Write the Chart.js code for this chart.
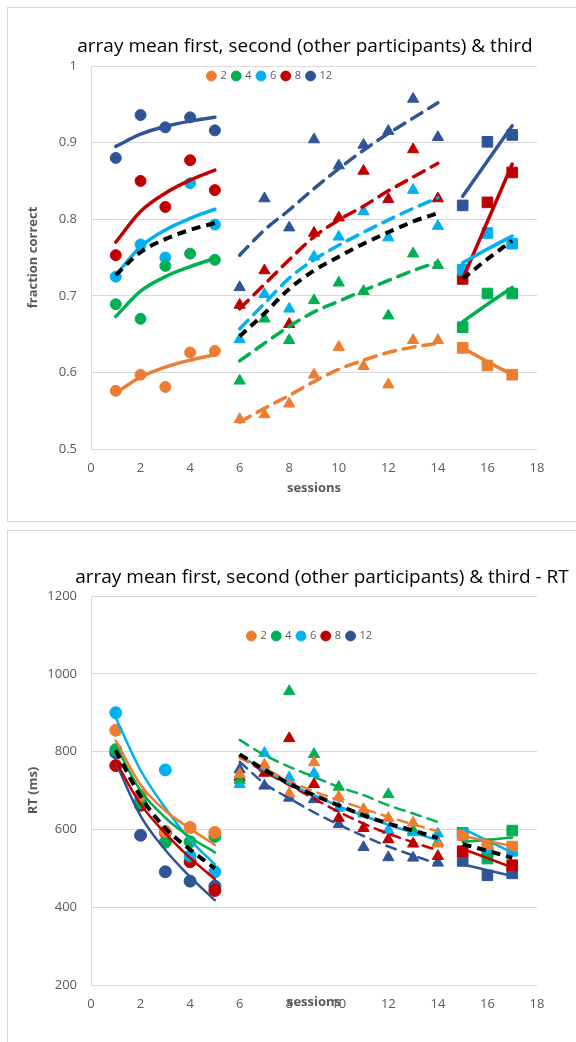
<!DOCTYPE html>
<html>
<head>
<meta charset="utf-8">
<script src="https://cdn.jsdelivr.net/npm/chart.js@4.4.1/dist/chart.umd.min.js"></script>
<style>
  html, body { margin: 0; padding: 0; background: #fff; }
  body { position: relative; width: 576px; height: 1042px; overflow: hidden; }
  .frame { position: absolute; left: 7px; width: 620px; border: 1px solid #d6d6d6; box-sizing: border-box; }
  #f1 { top: 7px; height: 515px; }
  #f2 { top: 530px; height: 560px; }
  canvas { position: absolute; left: 0; }
  #accChart { top: 0; }
  #rtChart { top: 526px; }
</style>
</head>
<body>
<div class="frame" id="f1"></div>
<div class="frame" id="f2"></div>
<canvas id="accChart" width="576" height="522"></canvas>
<canvas id="rtChart" width="576" height="516"></canvas>
<script>
// sessions of the three blocks
const sessionsA = [1, 2, 3, 4, 5];
const sessionsB = [6, 7, 8, 9, 10, 11, 12, 13, 14];
const sessionsC = [15, 16, 17];
const setSizes = ['2', '4', '6', '8', '12'];
const xTicks = [0, 2, 4, 6, 8, 10, 12, 14, 16, 18];

// fraction correct, rows follow setSizes
const accDotsA = [
  [0.576, 0.597, 0.581, 0.626, 0.628],
  [0.689, 0.670, 0.739, 0.755, 0.747],
  [0.725, 0.767, 0.750, 0.847, 0.793],
  [0.753, 0.850, 0.816, 0.877, 0.838],
  [0.880, 0.936, 0.920, 0.933, 0.916]
];
const accDotsB = [
  [0.539, 0.545, 0.559, 0.597, 0.633, 0.608, 0.584, 0.642, 0.642],
  [0.589, 0.670, 0.642, 0.694, 0.717, 0.706, 0.674, 0.755, 0.740],
  [0.643, 0.702, 0.683, 0.751, 0.777, 0.810, 0.776, 0.838, 0.791],
  [0.688, 0.733, 0.663, 0.782, 0.802, 0.863, 0.826, 0.891, 0.827],
  [0.711, 0.827, 0.789, 0.904, 0.870, 0.897, 0.915, 0.957, 0.907]
];
const accDotsC = [
  [0.632, 0.609, 0.597],
  [0.659, 0.703, 0.703],
  [0.734, 0.782, 0.768],
  [0.722, 0.822, 0.861],
  [0.818, 0.901, 0.910]
];
// trendlines
const accFitA = [
  [0.573, 0.594, 0.607, 0.616, 0.623],
  [0.673, 0.706, 0.725, 0.738, 0.749],
  [0.727, 0.764, 0.786, 0.801, 0.813],
  [0.770, 0.810, 0.834, 0.851, 0.864],
  [0.895, 0.911, 0.921, 0.928, 0.933]
];
const accFitB = [
  [0.535, 0.553, 0.570, 0.588, 0.604, 0.616, 0.626, 0.633, 0.638],
  [0.615, 0.638, 0.660, 0.679, 0.693, 0.707, 0.720, 0.733, 0.744],
  [0.657, 0.690, 0.723, 0.747, 0.766, 0.783, 0.799, 0.814, 0.828],
  [0.683, 0.715, 0.747, 0.777, 0.799, 0.817, 0.837, 0.855, 0.873],
  [0.753, 0.786, 0.812, 0.840, 0.866, 0.890, 0.912, 0.932, 0.952]
];
const accFitC = [
  [0.632, 0.614, 0.597],
  [0.666, 0.689, 0.711],
  [0.743, 0.761, 0.778],
  [0.722, 0.797, 0.872],
  [0.830, 0.876, 0.922]
];
const accMeanA = [0.727, 0.757, 0.774, 0.786, 0.795];
const accMeanB = [0.647, 0.677, 0.709, 0.733, 0.751, 0.768, 0.783, 0.797, 0.808];
const accMeanC = [0.722, 0.748, 0.772];

// reaction time (ms)
const rtDotsA = [
  [855, 688, 595, 605, 592],
  [805, 668, 567, 568, 582],
  [900, 675, 753, 532, 491],
  [764, 662, 592, 517, 443],
  [797, 585, 491, 467, 454]
];
const rtDotsB = [
  [742, 766, 692, 772, 684, 652, 629, 617, 563],
  [727, 758, 955, 793, 709, 645, 690, 597, 567],
  [716, 796, 733, 744, 655, 640, 598, 592, 589],
  [734, 745, 834, 716, 629, 603, 574, 563, 531],
  [754, 712, 681, 677, 613, 554, 528, 527, 514]
];
const rtDotsC = [
  [585, 562, 556],
  [591, 525, 597],
  [590, 550, 545],
  [544, 540, 508],
  [519, 482, 487]
];
const rtFitA = [
  [828, 715, 648, 602, 560],
  [815, 700, 630, 580, 541],
  [887, 752, 655, 573, 510],
  [775, 665, 590, 527, 472],
  [772, 635, 547, 478, 418]
];
const rtFitB = [
  [783, 757, 724, 698, 675, 653, 632, 613, 595],
  [830, 791, 761, 735, 709, 688, 662, 641, 619],
  [790, 752, 718, 688, 660, 635, 612, 592, 572],
  [787, 748, 714, 679, 645, 615, 589, 567, 546],
  [774, 718, 680, 644, 612, 583, 556, 533, 511]
];
const rtFitC = [
  [583, 570, 557],
  [568, 573, 579],
  [602, 571, 540],
  [550, 526, 502],
  [510, 495, 480]
];
const rtMeanA = [803, 685, 603, 548, 500];
const rtMeanB = [793, 753, 718, 688, 662, 636, 615, 597, 578];
const rtMeanC = [562, 545, 527];

const setColors = ['#ED7D31', '#00B050', '#00B0F0', '#C00000', '#2F5597'];

Chart.defaults.font.family = "'Open Sans', sans-serif";
Chart.defaults.color = '#595959';

function pts(xs, ys) {
  return xs.map((x, i) => ({ x: x, y: ys[i] }));
}

function buildDatasets(dots, fits, means, look) {
  const phases = [sessionsA, sessionsB, sessionsC];
  const markers = ['circle', 'triangle', 'rect'];
  const sets = [];
  phases.forEach((xs, p) => {
    setSizes.forEach((s, k) => {
      sets.push({
        label: p === 0 ? s : '',
        data: pts(xs, dots[p][k]),
        pointStyle: markers[p],
        pointRadius: look.radii[p],
        backgroundColor: setColors[k],
        borderColor: setColors[k],
        borderWidth: 1,
        showLine: false,
        order: 2
      });
      const dashed = p === 1 && !look.solidB.includes(k);
      sets.push({
        label: '',
        data: pts(xs, fits[p][k]),
        showLine: true,
        pointRadius: 0,
        borderColor: setColors[k],
        borderWidth: look.lineWidth,
        borderDash: dashed ? look.dash : [],
        borderCapStyle: 'round',
        cubicInterpolationMode: 'monotone',
        order: 1
      });
    });
    sets.push({
      label: '',
      data: pts(xs, means[p]),
      showLine: true,
      pointRadius: 0,
      borderColor: '#000',
      borderWidth: look.meanWidth,
      borderDash: look.meanDash,
      cubicInterpolationMode: 'monotone',
      order: 0
    });
  });
  return sets;
}

// move title and legend to where Excel put them
const placeBoxes = {
  id: 'placeBoxes',
  afterLayout(chart, args, opts) {
    const t = chart.titleBlock;
    t.left = opts.titleX - 290; t.right = opts.titleX + 290; t.width = 580;
    const lg = chart.legend;
    const pad = lg.options.labels.padding;
    lg.left = opts.legendX - 150; lg.right = opts.legendX + 150; lg.width = 300;
    lg.top = opts.legendY - pad - 5.5; lg.bottom = lg.top + 30; lg.height = 30;
  }
};

function makeChart(id, c) {
  return new Chart(document.getElementById(id), {
    type: 'scatter',
    data: { datasets: c.datasets },
    options: {
      responsive: false,
      animation: false,
      events: [],
      layout: { padding: { top: 0, left: 0, right: 39, bottom: c.padBottom } },
      plugins: {
        title: {
          display: true,
          text: c.title,
          color: '#000',
          font: { size: 19, weight: 'normal' },
          padding: { top: c.titleTop, bottom: c.titleBottom }
        },
        legend: {
          display: true,
          position: 'top',
          maxHeight: 1,
          labels: {
            usePointStyle: true,
            boxHeight: 7,
            boxWidth: 7,
            padding: 6,
            color: '#595959',
            font: { size: 11 },
            filter: item => item.text !== ''
          }
        },
        tooltip: { enabled: false },
        placeBoxes: { titleX: c.titleX, legendX: c.legendX, legendY: c.legendY }
      },
      scales: {
        x: {
          type: 'linear',
          min: 0,
          max: 18,
          afterBuildTicks: s => { s.ticks = xTicks.map(v => ({ value: v })); },
          afterFit: s => { s.height = 50; },
          ticks: { font: { size: 13 }, padding: 3, color: '#595959', callback: v => String(v) },
          grid: { display: false },
          border: { display: false },
          title: {
            display: true,
            text: 'sessions',
            color: '#595959',
            font: { size: 13, weight: 'bold' },
            padding: { top: 0, bottom: c.xTitleBottom }
          }
        },
        y: {
          min: c.yMin,
          max: c.yMax,
          afterBuildTicks: s => { s.ticks = c.yTicks.map(v => ({ value: v })); },
          afterFit: s => { s.width = 91; },
          ticks: { font: { size: 13 }, padding: 14, color: '#595959', callback: v => String(v) },
          grid: { color: '#d9d9d9', drawTicks: false },
          border: { display: true, color: '#d9d9d9' },
          title: {
            display: true,
            text: c.yTitle,
            color: '#595959',
            font: { size: 13, weight: 'bold' },
            padding: { top: 25.2, bottom: 0 }
          }
        }
      }
    },
    plugins: [placeBoxes]
  });
}

makeChart('accChart', {
  title: 'array mean first, second (other participants) & third',
  yTitle: 'fraction correct',
  yMin: 0.5, yMax: 1,
  yTicks: [0.5, 0.6, 0.7, 0.8, 0.9, 1],
  titleTop: 35.6, titleBottom: 6.6,
  padBottom: 23,
  xTitleBottom: 3.2,
  titleX: 305, legendX: 270, legendY: 76,
  datasets: buildDatasets([accDotsA, accDotsB, accDotsC], [accFitA, accFitB, accFitC],
    [accMeanA, accMeanB, accMeanC],
    { radii: [5.5, 6.5, 7.5], lineWidth: 3.5, dash: [12, 8], meanWidth: 4, meanDash: [9, 6], solidB: [] })
});

makeChart('rtChart', {
  title: 'array mean first, second (other participants) & third - RT',
  yTitle: 'RT (ms)',
  yMin: 200, yMax: 1200,
  yTicks: [200, 400, 600, 800, 1000, 1200],
  titleTop: 40.6, titleBottom: 5.6,
  padBottom: 7,
  xTitleBottom: 25.2,
  titleX: 322, legendX: 310, legendY: 110,
  datasets: buildDatasets([rtDotsA, rtDotsB, rtDotsC], [rtFitA, rtFitB, rtFitC],
    [rtMeanA, rtMeanB, rtMeanC],
    { radii: [6, 6.5, 7.5], lineWidth: 2.5, dash: [10, 7], meanWidth: 4, meanDash: [9, 6], solidB: [2] })
});
</script>
</body>
</html>
